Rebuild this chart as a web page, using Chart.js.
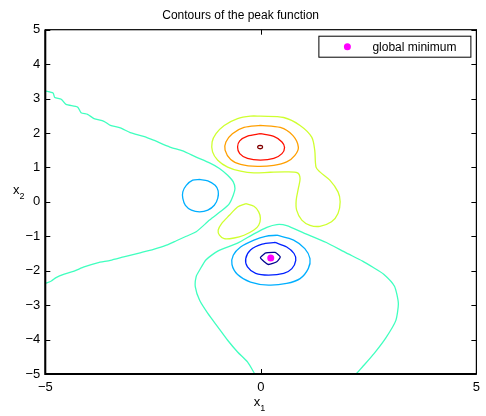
<!DOCTYPE html>
<html>
<head>
<meta charset="utf-8">
<script src="https://cdn.jsdelivr.net/npm/chart.js@4.4.0/dist/chart.umd.min.js"></script>
<style>
  body { margin: 0; background: #fff; }
</style>
</head>
<body>
<canvas id="myChart" width="486" height="416"></canvas>
<script>

// contour levels of the peaks surface and their jet colours
const levels = [-6, -4, -2, 0, 2, 4, 6, 8];
const levelColors = ['#00008f', '#0020ff', '#00afff', '#40ffbf', '#cfff30', '#ff9f00', '#ff1000', '#800000'];

// level 0, left branch (enters and leaves at x = -5)
const zeroLeftX = [-5.00, -4.82, -4.78, -4.63, -4.52, -4.25, -4.17, -4.02, -3.87, -3.64, -3.49, -3.26, -3.03, -2.72, -2.49, -2.11, -1.81, -1.50, -1.19, -0.96, -0.77, -0.64, -0.60, -0.64, -0.73, -0.89, -1.19, -1.50, -1.73, -1.96, -2.19, -2.49, -2.80, -3.18, -3.49, -3.79, -4.10, -4.33, -4.56, -4.75, -4.86, -5.00];
const zeroLeftY = [3.22, 3.16, 3.03, 2.98, 2.83, 2.75, 2.59, 2.54, 2.42, 2.34, 2.22, 2.15, 2.01, 1.90, 1.79, 1.59, 1.48, 1.30, 1.13, 0.97, 0.77, 0.58, 0.39, 0.19, -0.05, -0.24, -0.53, -0.87, -1.00, -1.13, -1.26, -1.38, -1.48, -1.60, -1.70, -1.77, -1.89, -2.01, -2.10, -2.20, -2.30, -2.37];

// level 0, lower branch (enters and leaves at y = -5)
const zeroLowX = [-0.14, -0.31, -0.54, -0.77, -1.00, -1.23, -1.42, -1.52, -1.50, -1.42, -1.27, -1.00, -0.54, -0.16, 0.14, 0.37, 0.60, 0.99, 1.52, 1.98, 2.36, 2.60, 2.85, 3.10, 3.19, 3.13, 2.90, 2.63, 2.36, 2.21];
const zeroLowY = [-5.00, -4.65, -4.36, -4.02, -3.63, -3.24, -2.86, -2.47, -2.17, -1.98, -1.68, -1.43, -1.20, -0.93, -0.74, -0.66, -0.69, -0.90, -1.18, -1.48, -1.72, -1.90, -2.10, -2.45, -2.95, -3.45, -3.95, -4.40, -4.79, -5.00];

// level -2, small loop on the left
const negTwoLeftX = [-1.42, -1.23, -1.06, -0.99, -1.00, -1.08, -1.23, -1.42, -1.61, -1.75, -1.81, -1.81, -1.73, -1.58, -1.42];
const negTwoLeftY = [0.65, 0.61, 0.48, 0.32, 0.10, -0.10, -0.24, -0.29, -0.24, -0.10, 0.10, 0.29, 0.48, 0.63, 0.65];

// levels -2, -4, -6 around the minimum
const negTwoX = [0.37, 0.76, 1.02, 1.14, 1.10, 0.91, 0.60, 0.18, -0.24, -0.54, -0.67, -0.64, -0.47, -0.16, 0.11, 0.37];
const negTwoY = [-0.97, -1.11, -1.36, -1.65, -1.94, -2.23, -2.37, -2.42, -2.33, -2.11, -1.82, -1.55, -1.31, -1.11, -1.00, -0.97];
const negFourX = [0.33, 0.60, 0.77, 0.81, 0.72, 0.53, 0.18, -0.12, -0.31, -0.35, -0.24, 0.03, 0.33];
const negFourY = [-1.18, -1.31, -1.50, -1.70, -1.94, -2.08, -2.13, -2.08, -1.89, -1.65, -1.40, -1.23, -1.18];
const negSixX = [0.11, 0.33, 0.45, 0.37, 0.18, 0.08, -0.01, 0.11];
const negSixY = [-1.48, -1.47, -1.60, -1.74, -1.82, -1.74, -1.62, -1.48];

// level 2: loop round the peak with its lobe on the right, and the small blob below
const twoX = [-0.01, 0.53, 0.91, 1.18, 1.25, 1.28, 1.37, 1.60, 1.79, 1.84, 1.79, 1.64, 1.37, 1.14, 0.95, 0.83, 0.82, 0.87, 0.91, 0.85, 0.60, 0.22, -0.16, -0.47, -0.77, -1.00, -1.12, -1.13, -1.04, -0.85, -0.54, -0.24, -0.01];
const twoY = [2.49, 2.45, 2.22, 1.88, 1.50, 1.01, 0.87, 0.63, 0.29, 0.00, -0.34, -0.58, -0.71, -0.68, -0.53, -0.24, 0.05, 0.39, 0.68, 0.84, 0.87, 0.86, 0.84, 0.89, 1.01, 1.21, 1.45, 1.74, 1.98, 2.22, 2.42, 2.49, 2.49];
const twoBlobX = [-0.35, -0.16, -0.05, -0.01, -0.05, -0.16, -0.39, -0.62, -0.85, -0.96, -0.99, -0.91, -0.73, -0.54, -0.35];
const twoBlobY = [-0.05, -0.13, -0.29, -0.48, -0.68, -0.82, -0.97, -1.05, -1.07, -0.97, -0.82, -0.63, -0.39, -0.15, -0.05];

// levels 4, 6, 8 around the peak
const fourX = [-0.01, 0.45, 0.74, 0.87, 0.79, 0.60, 0.30, -0.08, -0.47, -0.70, -0.83, -0.81, -0.66, -0.39, -0.01];
const fourY = [2.22, 2.16, 1.93, 1.59, 1.35, 1.16, 1.06, 1.03, 1.09, 1.23, 1.50, 1.74, 1.98, 2.16, 2.22];
const sixX = [-0.01, 0.30, 0.49, 0.55, 0.49, 0.30, -0.01, -0.31, -0.49, -0.54, -0.49, -0.31, -0.01];
const sixY = [1.98, 1.90, 1.74, 1.58, 1.40, 1.26, 1.21, 1.26, 1.40, 1.59, 1.77, 1.91, 1.98];
const eightX = [-0.08, -0.05, 0.02, 0.04, 0.02, -0.05, -0.08];
const eightY = [1.59, 1.63, 1.63, 1.59, 1.55, 1.55, 1.59];

// global minimum marker
const minX = [0.23];
const minY = [-1.63];
const minLabel = 'global minimum';

const fontFamily = '"Liberation Sans", Arial, Helvetica, sans-serif';
Chart.defaults.font.family = fontFamily;

function contour(xs, ys, level, tension) {
    return {
        data: xs.map((x, i) => ({x: x, y: ys[i]})),
        showLine: true,
        borderColor: levelColors[levels.indexOf(level)],
        borderWidth: 1.3,
        pointRadius: 0,
        tension: tension,
        fill: false
    };
}

// box with inward ticks on every side
const frame = {
    id: 'frame',
    afterDraw(chart) {
        const {ctx, chartArea: a, scales: {x, y}} = chart;
        ctx.save();
        ctx.strokeStyle = '#000';
        ctx.lineWidth = 1;
        ctx.beginPath();
        x.ticks.forEach(t => {
            const px = Math.round(x.getPixelForValue(t.value)) + 0.5;
            ctx.moveTo(px, a.bottom); ctx.lineTo(px, a.bottom - 5);
            ctx.moveTo(px, a.top); ctx.lineTo(px, a.top + 5);
        });
        y.ticks.forEach(t => {
            const py = Math.round(y.getPixelForValue(t.value)) + 0.5;
            ctx.moveTo(a.left, py); ctx.lineTo(a.left + 5, py);
            ctx.moveTo(a.right, py); ctx.lineTo(a.right - 5, py);
        });
        ctx.stroke();
        ctx.lineWidth = 1.2;
        ctx.strokeRect(a.left, a.top, a.right - a.left, a.bottom - a.top);
        ctx.lineWidth = 2;
        ctx.beginPath();
        ctx.moveTo(a.left, a.top);
        ctx.lineTo(a.left, a.bottom);
        ctx.lineTo(a.right, a.bottom);
        ctx.stroke();

        // axis labels with subscripts
        ctx.fillStyle = '#000';
        ctx.textBaseline = 'alphabetic';
        const sub = (tx, ty, base, idx) => {
            ctx.font = '13px ' + fontFamily;
            ctx.textAlign = 'left';
            ctx.fillText(base, tx, ty);
            const w = ctx.measureText(base).width;
            ctx.font = '9px ' + fontFamily;
            ctx.fillText(idx, tx + w, ty + 5);
        };
        sub((a.left + a.right) / 2 - 7, 406, 'x', '1');
        sub(13, 194, 'x', '2');

        // legend in the top right corner
        const bw = 152, bh = 21;
        const bx = a.right - bw - 6, by = a.top + 6;
        ctx.fillStyle = '#fff';
        ctx.fillRect(bx, by, bw, bh);
        ctx.lineWidth = 1;
        ctx.strokeRect(bx + 0.5, by + 0.5, bw, bh);
        ctx.fillStyle = '#ff00ff';
        ctx.beginPath();
        ctx.arc(bx + 29, by + bh / 2 + 0.5, 3.5, 0, Math.PI * 2);
        ctx.fill();
        ctx.fillStyle = '#000';
        ctx.font = '12px ' + fontFamily;
        ctx.textBaseline = 'middle';
        ctx.fillText(minLabel, bx + 54, by + bh / 2 + 1);
        ctx.restore();
    }
};

const minus = v => String(v).replace('-', '\u2212');

const ctx = document.getElementById('myChart').getContext('2d');
const myChart = new Chart(ctx, {
    type: 'scatter',
    data: {
        datasets: [
            {
                label: minLabel,
                data: minX.map((x, i) => ({x: x, y: minY[i]})),
                pointRadius: 3.5,
                pointBackgroundColor: '#ff00ff',
                pointBorderWidth: 0,
                showLine: false
            },
            contour(eightX, eightY, 8, 0.3),
            contour(sixX, sixY, 6, 0.3),
            contour(fourX, fourY, 4, 0.3),
            contour(twoX, twoY, 2, 0.3),
            contour(twoBlobX, twoBlobY, 2, 0.3),
            contour(zeroLeftX, zeroLeftY, 0, 0.2),
            contour(zeroLowX, zeroLowY, 0, 0.2),
            contour(negTwoLeftX, negTwoLeftY, -2, 0.3),
            contour(negTwoX, negTwoY, -2, 0.3),
            contour(negFourX, negFourY, -4, 0.3),
            contour(negSixX, negSixY, -6, 0.2)
        ]
    },
    options: {
        responsive: false,
        animation: false,
        devicePixelRatio: 1,
        layout: {padding: {left: 0, right: 4.7, top: 0, bottom: 0}},
        scales: {
            x: {
                type: 'linear',
                min: -5,
                max: 5,
                ticks: {stepSize: 5, color: '#000', font: {size: 13}, padding: 6, maxRotation: 0, autoSkip: false, callback: minus},
                grid: {display: false, drawTicks: false},
                border: {display: false},
                afterFit(s) { s.height = 42; }
            },
            y: {
                type: 'linear',
                min: -5,
                max: 5,
                ticks: {stepSize: 1, color: '#000', font: {size: 13}, padding: 5, autoSkip: false, callback: minus},
                grid: {display: false, drawTicks: false},
                border: {display: false},
                afterFit(s) { s.width = 45.3; }
            }
        },
        plugins: {
            legend: {display: false},
            tooltip: {enabled: false},
            title: {
                display: true,
                text: 'Contours of the peak function',
                color: '#000',
                font: {size: 12, weight: 'normal'},
                padding: {top: 8, bottom: 7.3}
            }
        }
    },
    plugins: [frame]
});
</script>
</body>
</html>
